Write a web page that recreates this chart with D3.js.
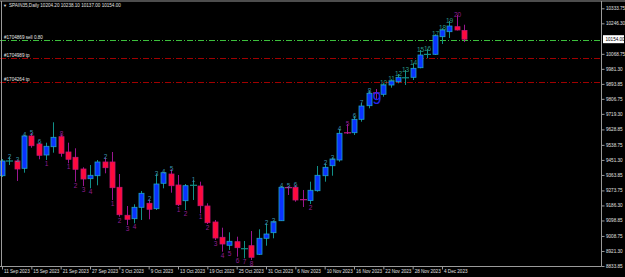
<!DOCTYPE html>
<html>
<head>
<meta charset="utf-8">
<script src="https://cdn.jsdelivr.net/npm/d3@7"></script>
<style>
  html, body { margin: 0; padding: 0; background: #000; }
  svg { display: block; }
  text { font-family: "Liberation Sans", Arial, sans-serif; }
</style>
</head>
<body>
<div id="chart"></div>
<script>
// Daily bars, 11 Sep 2023 - 7 Dec 2023
const dates = [
  "2023-09-11","2023-09-12","2023-09-13","2023-09-14","2023-09-15",
  "2023-09-18","2023-09-19","2023-09-20","2023-09-21","2023-09-22",
  "2023-09-25","2023-09-26","2023-09-27","2023-09-28","2023-09-29",
  "2023-10-02","2023-10-03","2023-10-04","2023-10-05","2023-10-06",
  "2023-10-09","2023-10-10","2023-10-11","2023-10-12","2023-10-13",
  "2023-10-16","2023-10-17","2023-10-18","2023-10-19","2023-10-20",
  "2023-10-23","2023-10-24","2023-10-25","2023-10-26","2023-10-27",
  "2023-10-30","2023-10-31","2023-11-01","2023-11-02","2023-11-03",
  "2023-11-06","2023-11-07","2023-11-08","2023-11-09","2023-11-10",
  "2023-11-13","2023-11-14","2023-11-15","2023-11-16","2023-11-17",
  "2023-11-20","2023-11-21","2023-11-22","2023-11-23","2023-11-24",
  "2023-11-27","2023-11-28","2023-11-29","2023-11-30","2023-12-01",
  "2023-12-04","2023-12-05","2023-12-06","2023-12-07"
];

const opens = [
  9359.4, 9444.0, 9445.0, 9402.5, 9590.5, 9543.9, 9479.9, 9528.2, 9586.4, 9497.4,
  9466.5, 9398.4, 9342.0, 9359.4, 9439.2, 9439.2, 9291.9, 9129.0, 9109.2, 9175.5,
  9198.8, 9167.4, 9315.2, 9369.3, 9305.3, 9213.9, 9303.0, 9299.5, 9183.1, 9090.0,
  9000.9, 8954.3, 8975.3, 8934.0, 8952.0, 8902.0, 8995.1, 9027.7, 9097.5, 9291.9,
  9291.9, 9221.0, 9215.1, 9272.1, 9359.4, 9417.6, 9450.8, 9612.0, 9609.7, 9687.7,
  9766.9, 9843.7, 9833.2, 9887.3, 9906.5, 9929.0, 9932.2, 9988.0, 10065.0, 10066.0,
  10168.5, 10197.6, 10226.7, 10204.2
];
const highs = [
  9456.6, 9470.0, 9450.8, 9598.1, 9608.0, 9553.8, 9551.5, 9670.2, 9600.4, 9551.5,
  9518.9, 9408.3, 9421.7, 9450.8, 9466.5, 9497.4, 9369.3, 9183.1, 9193.0, 9270.4,
  9222.1, 9369.3, 9382.7, 9396.7, 9363.5, 9311.1, 9334.4, 9324.5, 9198.8, 9101.6,
  9056.8, 9030.0, 9004.4, 8979.4, 9037.6, 9047.5, 9082.4, 9095.8, 9299.5, 9299.5,
  9305.3, 9276.2, 9324.5, 9415.9, 9431.6, 9464.2, 9631.2, 9660.3, 9706.9, 9784.3,
  9852.4, 9864.1, 9897.2, 9920.5, 9951.4, 9974.6, 10013.6, 10091.0, 10096.9, 10182.4,
  10217.4, 10259.8, 10294.8, 10238.1
];
const lows = [
  9351.9, 9421.7, 9328.6, 9376.9, 9522.4, 9454.9, 9450.8, 9493.3, 9470.0, 9431.6,
  9324.5, 9299.5, 9286.1, 9303.6, 9373.4, 9218.0, 9120.8, 9072.5, 9082.4, 9101.6,
  9105.7, 9159.8, 9286.1, 9260.5, 9183.1, 9159.8, 9218.0, 9140.6, 9078.3, 8985.2,
  8917.1, 8927.0, 8888.0, 8878.7, 8868.8, 8897.9, 8952.0, 8995.1, 9095.8, 9247.1,
  9208.1, 9177.3, 9195.0, 9266.3, 9324.5, 9359.4, 9440.9, 9602.1, 9596.3, 9673.7,
  9751.7, 9805.9, 9819.2, 9871.6, 9897.2, 9887.3, 9916.4, 9984.5, 10042.7, 10061.9,
  10126.0, 10160.9, 10204.6, 10137.0
];
const closes = [
  9445.0, 9446.0, 9398.4, 9590.5, 9534.0, 9478.2, 9530.6, 9582.9, 9489.8, 9454.9,
  9396.7, 9340.2, 9361.8, 9439.2, 9406.0, 9289.6, 9132.4, 9105.7, 9175.5, 9257.0,
  9163.9, 9311.1, 9376.9, 9301.2, 9190.6, 9301.2, 9304.0, 9184.8, 9085.9, 8996.8,
  8961.9, 8977.6, 8940.4, 8935.0, 8884.5, 8995.1, 9020.1, 9091.7, 9291.9, 9287.8,
  9218.0, 9219.0, 9274.5, 9361.8, 9408.3, 9456.6, 9606.2, 9606.2, 9687.7, 9765.1,
  9839.0, 9837.9, 9887.3, 9910.6, 9932.2, 9930.0, 9984.5, 10061.9, 10066.0, 10174.3,
  10207.5, 10230.7, 10207.5, 10154.0
];

// setup counts: bar index, text, side (a = above high, b = below low), colour key
const countIdx  = [1, 2, 3, 4, 5, 6, 8, 9, 10, 11, 12, 14, 15, 16, 17, 18, 20, 21, 22, 23,
                   24, 25, 26, 27, 28, 29, 30, 31, 32, 33, 34, 36, 37, 38, 39, 40, 42,
                   44, 45, 46, 47, 48, 49, 50, 52, 53, 54, 55, 56, 57, 58, 59, 60, 61, 62];
const countText = ["2","3","4","5","6","1","8","1","2","3","4","2","1","2","3","4","2","3","4","5",
                   "1","2","1","1","2","3","4","5","6","7","8","2","3","4","5","6","2",
                   "2","3","4","5","6","7","8","10","11","12","13","14","15","16","17","18","19","20"];
const countSide = ["a","a","a","a","a","b","a","b","b","b","b","a","b","b","b","b","a","a","a","a",
                   "b","b","a","b","b","b","b","b","b","b","b","a","a","a","a","a","b",
                   "a","a","a","a","a","a","a","a","a","a","a","a","a","a","a","a","a","a"];
const countCol  = ["t","t","t","t","t","p","p","p","p","p","p","t","p","p","p","p","t","t","t","t",
                   "p","p","t","p","p","p","p","p","p","p","p","t","t","t","t","t","p",
                   "t","t","t","p","t","t","t","g","g","g","g","g","g","g","g","g","g","p"];
const bigNineIdx = 51;

// order lines
const orderLevels = [10152, 10043, 9905];
const orderLabels = ["#1704869 sell 0.80", "#1704989 tp", "#1704264 tp"];
const orderColors = ["#3cc03c", "#a00000", "#a00000"];

// axis labels
const yTickLabels = ["10333.75","10246.30","10068.75","9981.30","9893.85","9806.75","9719.30",
                     "9628.85","9538.75","9451.30","9363.85","9273.75","9186.30","9098.85",
                     "9008.75","8921.30","8833.85"];
const xTickDates = ["2023-09-11","2023-09-15","2023-09-21","2023-09-27","2023-10-03","2023-10-09",
                    "2023-10-13","2023-10-19","2023-10-25","2023-10-31","2023-11-06","2023-11-10",
                    "2023-11-16","2023-11-22","2023-11-28","2023-12-04"];
const symbolTitle = "SPAIN35,Daily";
const lastPrice = 10154.00;

const width = 625, height = 277;
const plotRight = 601, plotBottom = 266;

const svg = d3.select("#chart").append("svg")
  .attr("width", width).attr("height", height)
  .style("background", "#000");

const x = d3.scalePoint().domain(dates).range([2, 464]);
const y = d3.scaleLinear().domain([8833.85, 10333.75]).range([plotBottom, 8.3]);

const parse = d3.timeParse("%Y-%m-%d");
const fmt = d3.timeFormat("%-d %b %Y");

const bars = dates.map((d, i) => ({
  d, i, o: opens[i], h: highs[i], l: lows[i], c: closes[i]
}));

const plot = svg.append("g");

// Order lines (snapped to pixel centres)
orderLevels.forEach((lvl, i) => {
  const ly = Math.round(y(lvl)) + 0.5;
  plot.append("line")
    .attr("x1", 0).attr("x2", plotRight)
    .attr("y1", ly).attr("y2", ly)
    .attr("stroke", orderColors[i])
    .attr("stroke-width", 1)
    .attr("stroke-dasharray", "6,2,1,2");
  plot.append("text")
    .attr("x", 4).attr("y", ly - 2)
    .attr("fill", "#e8e8e8")
    .attr("font-size", 4.6)
    .text(orderLabels[i]);
});

// Candles
const bodyW = 5;
const bullFill = "#0a32ff", bullEdge = "#1ea4c8", bullWick = "#119088";
const bearFill = "#ff0a3c", bearEdge = "#c81470", bearWick = "#9a1690";

const candle = plot.append("g").selectAll("g")
  .data(bars)
  .enter().append("g");

candle.append("line")
  .attr("x1", d => Math.round(x(d.d)) + 0.5)
  .attr("x2", d => Math.round(x(d.d)) + 0.5)
  .attr("y1", d => y(d.h))
  .attr("y2", d => y(d.l))
  .attr("stroke", d => d.c >= d.o ? bullWick : bearWick)
  .attr("stroke-width", 1);

candle.each(function (d) {
  const g = d3.select(this);
  const cx = Math.round(x(d.d));
  const top = y(Math.max(d.o, d.c)), bot = y(Math.min(d.o, d.c));
  const bull = d.c >= d.o;
  if (bot - top < 1.5) {
    // doji
    g.append("line")
      .attr("x1", cx - 3).attr("x2", cx + 4)
      .attr("y1", (top + bot) / 2).attr("y2", (top + bot) / 2)
      .attr("stroke", bull ? bullWick : "#c01488")
      .attr("stroke-width", 1.2);
  } else {
    g.append("rect")
      .attr("x", cx - bodyW / 2 + 0.5)
      .attr("y", top)
      .attr("width", bodyW)
      .attr("height", bot - top)
      .attr("fill", bull ? bullFill : bearFill)
      .attr("stroke", bull ? bullEdge : bearEdge)
      .attr("stroke-width", 0.8);
  }
});

// Count labels
const colorKey = { t: "#3a8eaa", p: "#901c90", g: "#2a9a86" };
countIdx.forEach((idx, k) => {
  const b = bars[idx];
  const above = countSide[k] === "a";
  plot.append("text")
    .attr("x", Math.round(x(b.d)) + 0.5)
    .attr("y", above ? y(b.h) + 2 : y(b.l) + 6)
    .attr("text-anchor", "middle")
    .attr("font-size", 6.5)
    .attr("fill", colorKey[countCol[k]])
    .text(countText[k]);
});

plot.append("text")
  .attr("x", Math.round(x(dates[bigNineIdx])) + 1)
  .attr("y", y(highs[bigNineIdx]) + 15)
  .attr("text-anchor", "middle")
  .attr("font-size", 16)
  .attr("fill", "#2424ee")
  .text("9");

// Frame
const frame = svg.append("g").attr("stroke", "#9a9a9a").attr("stroke-width", 1);
frame.append("line").attr("x1", 0).attr("x2", width).attr("y1", 1).attr("y2", 1);
frame.append("line").attr("x1", 1.5).attr("x2", 1.5).attr("y1", 1).attr("y2", plotBottom);
frame.append("line").attr("x1", plotRight + 0.5).attr("x2", plotRight + 0.5).attr("y1", 1).attr("y2", plotBottom + 0.5);
frame.append("line").attr("x1", 0).attr("x2", plotRight + 0.5).attr("y1", plotBottom + 0.5).attr("y2", plotBottom + 0.5);

// Right price axis
const yAxis = d3.axisRight(y)
  .tickValues(yTickLabels.map(Number))
  .tickFormat((d, i) => yTickLabels[i])
  .tickSize(3)
  .tickSizeOuter(0);

const gy = svg.append("g")
  .attr("transform", `translate(${plotRight + 0.5},0)`)
  .call(yAxis);
gy.select(".domain").remove();
gy.selectAll("line").attr("stroke", "#9a9a9a");
gy.selectAll("text")
  .attr("fill", "#e0e0e0")
  .attr("font-size", 4.6)
  .attr("x", 4.5)
  .style("font-family", "Liberation Sans, Arial, sans-serif");

// Last price box
svg.append("rect")
  .attr("x", plotRight + 2).attr("y", y(lastPrice) - 4)
  .attr("width", 21).attr("height", 8)
  .attr("fill", "#fff");
svg.append("text")
  .attr("x", plotRight + 4.5).attr("y", y(lastPrice) + 1.8)
  .attr("fill", "#000")
  .attr("font-size", 4.6)
  .text(d3.format(".2f")(lastPrice));

// Bottom time axis
const xAxis = d3.axisBottom(x)
  .tickValues(xTickDates)
  .tickFormat(d => fmt(parse(d)))
  .tickSize(3)
  .tickSizeOuter(0);

const gx = svg.append("g")
  .attr("transform", `translate(0,${plotBottom + 0.5})`)
  .call(xAxis);
gx.select(".domain").remove();
gx.selectAll("line").attr("stroke", "#9a9a9a");
gx.selectAll("text")
  .attr("fill", "#e0e0e0")
  .attr("font-size", 4.6)
  .attr("text-anchor", "start")
  .attr("x", 1.5)
  .attr("y", 3.5)
  .style("font-family", "Liberation Sans, Arial, sans-serif");

// Title
svg.append("text")
  .attr("x", 3).attr("y", 7)
  .attr("fill", "#e0e0e0")
  .attr("font-size", 4)
  .text("\u25BC");
svg.append("text")
  .attr("x", 9).attr("y", 7)
  .attr("fill", "#e0e0e0")
  .attr("font-size", 4.6)
  .text(`${symbolTitle}  ${d3.format(".2f")(opens[63])} ${d3.format(".2f")(highs[63])} ${d3.format(".2f")(lows[63])} ${d3.format(".2f")(closes[63])}`);
</script>
</body>
</html>
